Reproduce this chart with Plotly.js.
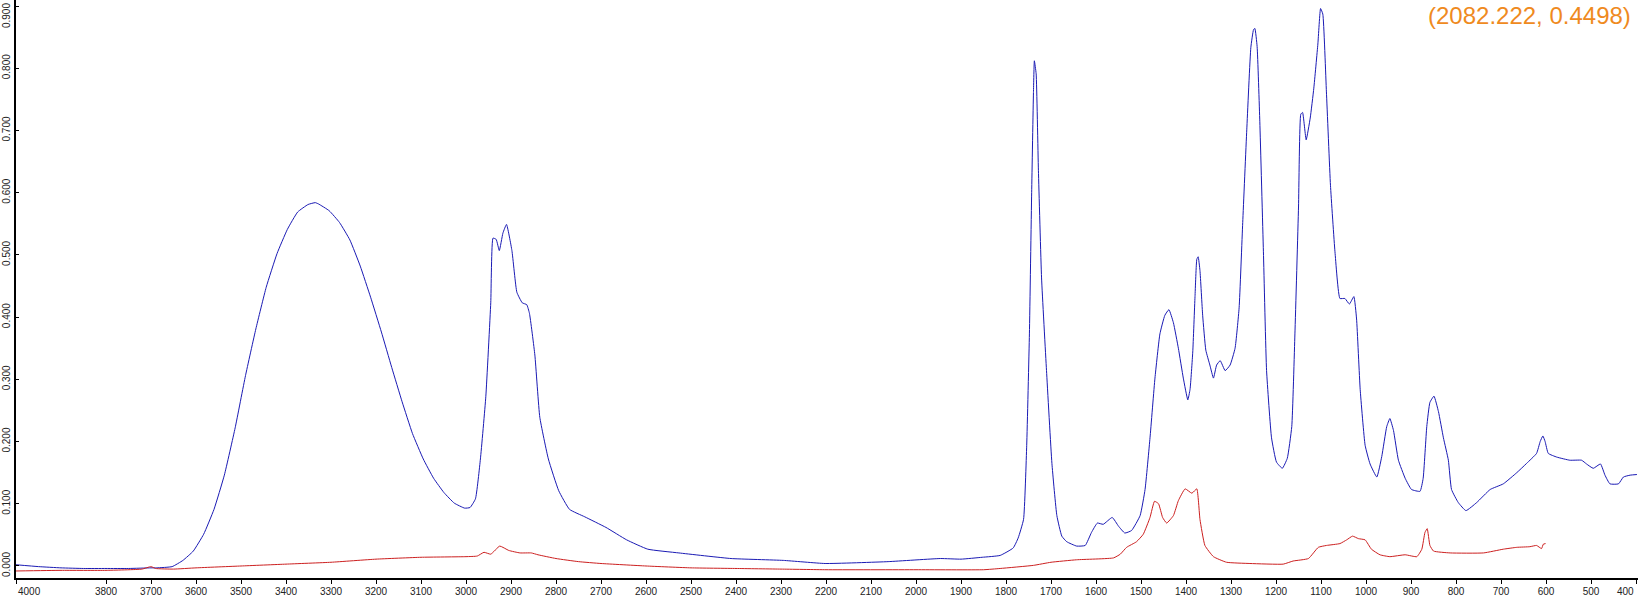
<!DOCTYPE html>
<html>
<head>
<meta charset="utf-8">
<script src="https://cdn.plot.ly/plotly-3.0.1.min.js"></script>
<style>
html,body{margin:0;padding:0;background:#fff;}
#chart{width:1638px;height:596px;}
</style>
</head>
<body>
<div id="chart"></div>
<script>
// Blue spectrum
const wnBlue = [4000,3950,3900,3850,3800,3750,3700,3687,3653,3629,3606,3583,3560,3537,3513,3490,3467,3444,3420,3397,3374,3351,3335,3328,3304,3281,3258,3235,3212,3188,3165,3142,3119,3095,3072,3049,3026,3003,2991,2979,2968,2956,2945,2940,2933,2926,2918,2910,2898,2887,2875,2865,2859,2847,2836,2817,2794,2770,2736,2689,2643,2596,2527,2411,2295,2202,2062,1946,1900,1853,1813,1784,1773,1761,1754,1748,1743,1739,1737,1733,1728,1721,1710,1698,1687,1676,1665,1643,1624,1610,1597,1584,1564,1550,1536,1521,1502,1491,1480,1469,1458,1447,1438,1428,1417,1406,1396,1391,1385,1380,1376,1373,1369,1363,1356,1347,1339,1332,1324,1313,1302,1291,1282,1274,1265,1256,1250,1247,1242,1236,1228,1221,1210,1199,1186,1175,1165,1158,1150,1145,1141,1133,1124,1116,1107,1101,1096,1088,1079,1069,1058,1047,1037,1027,1021,1013,1002,991,976,965,954,947,939,928,913,899,880,873,865,858,849,839,828,817,810,795,778,754,724,695,665,643,621,613,607,602,595,576,547,521,510,495,479,469,458,439,428,413,398];
const absBlue = [0.002,-0.001,-0.003,-0.004,-0.004,-0.004,-0.003,-0.003,-0.001,0.009,0.024,0.051,0.091,0.146,0.222,0.306,0.381,0.448,0.502,0.541,0.569,0.581,0.584,0.582,0.571,0.552,0.524,0.482,0.432,0.376,0.319,0.264,0.213,0.172,0.141,0.118,0.101,0.093,0.094,0.108,0.172,0.272,0.423,0.527,0.525,0.507,0.535,0.549,0.507,0.440,0.423,0.420,0.406,0.339,0.239,0.172,0.121,0.091,0.079,0.062,0.042,0.027,0.021,0.012,0.009,0.004,0.007,0.012,0.011,0.014,0.017,0.029,0.045,0.075,0.194,0.373,0.600,0.761,0.812,0.791,0.636,0.463,0.314,0.165,0.081,0.048,0.039,0.032,0.033,0.054,0.069,0.067,0.078,0.064,0.053,0.057,0.081,0.123,0.206,0.302,0.373,0.403,0.412,0.391,0.350,0.302,0.267,0.284,0.344,0.433,0.493,0.497,0.475,0.403,0.347,0.323,0.302,0.323,0.330,0.314,0.323,0.350,0.415,0.552,0.701,0.833,0.862,0.864,0.835,0.714,0.505,0.314,0.206,0.167,0.157,0.173,0.224,0.373,0.577,0.726,0.729,0.685,0.720,0.768,0.839,0.896,0.887,0.762,0.612,0.505,0.430,0.430,0.421,0.433,0.397,0.284,0.194,0.164,0.143,0.176,0.224,0.237,0.218,0.170,0.141,0.123,0.120,0.141,0.224,0.263,0.273,0.248,0.206,0.170,0.123,0.102,0.089,0.102,0.123,0.132,0.150,0.165,0.181,0.200,0.209,0.200,0.181,0.175,0.170,0.170,0.164,0.157,0.164,0.146,0.132,0.132,0.143,0.146,0.147];

// Red spectrum
const wnRed = [4000,3900,3800,3720,3700,3690,3650,3600,3500,3400,3300,3200,3100,3000,2975,2960,2945,2925,2905,2880,2855,2840,2800,2750,2700,2600,2500,2400,2300,2200,2000,1850,1813,1739,1700,1643,1561,1546,1532,1510,1495,1480,1470,1461,1452,1443,1428,1417,1402,1387,1376,1369,1358,1339,1310,1258,1184,1162,1128,1106,1088,1058,1043,1030,1017,1002,988,969,947,913,887,876,869,864,858,850,813,739,695,665,636,621,610,606,601];
const absRed = [-0.008,-0.007,-0.007,-0.005,-0.001,-0.004,-0.005,-0.003,0.000,0.003,0.006,0.011,0.014,0.015,0.016,0.022,0.019,0.032,0.025,0.021,0.021,0.018,0.012,0.007,0.004,0.000,-0.003,-0.004,-0.005,-0.006,-0.006,-0.006,-0.004,0.001,0.006,0.010,0.013,0.019,0.030,0.039,0.051,0.078,0.104,0.100,0.078,0.069,0.081,0.105,0.124,0.117,0.124,0.075,0.033,0.015,0.006,0.004,0.003,0.008,0.012,0.030,0.033,0.036,0.042,0.048,0.044,0.042,0.027,0.018,0.015,0.018,0.015,0.027,0.054,0.060,0.033,0.024,0.021,0.021,0.027,0.030,0.031,0.033,0.028,0.035,0.036];

// Axis ticks
const xTickVals = [4000,3800,3700,3600,3500,3400,3300,3200,3100,3000,2900,2800,2700,2600,2500,2400,2300,2200,2100,2000,1900,1800,1700,1600,1500,1400,1300,1200,1100,1000,900,800,700,600,500,400];
const yTickVals = [0,0.1,0.2,0.3,0.4,0.5,0.6,0.7,0.8,0.9];
const cursorText = "(2082.222, 0.4498)";

const xTickText = xTickVals.map(v => (v === 4000 || v === 400) ? "" : String(v));
const yTop = yTickVals[yTickVals.length - 1];
const yTickText = yTickVals.map(v => v === yTop ? "" : v.toFixed(3));

const traces = [
  {x: wnBlue, y: absBlue, type: "scatter", mode: "lines", line: {color: "#1a1ab4", width: 1, shape: "spline", smoothing: 0.4}, hoverinfo: "skip"},
  {x: wnRed, y: absRed, type: "scatter", mode: "lines", line: {color: "#cc1f1f", width: 1, shape: "spline", smoothing: 0.4}, hoverinfo: "skip"}
];

const tickFont = {family: "Arial, 'Liberation Sans', sans-serif", size: 10, color: "#222"};
const yFont = {family: "'Liberation Sans Narrow', 'Arial Narrow', Arial, sans-serif", size: 10, color: "#222"};

const layout = {
  width: 1638, height: 596,
  margin: {l: 16, r: 0, t: 0, b: 18, pad: 0},
  paper_bgcolor: "#ffffff", plot_bgcolor: "#ffffff",
  showlegend: false,
  font: tickFont,
  xaxis: {
    range: [4000, 395.6], autorange: false,
    tickmode: "array", tickvals: xTickVals, ticktext: xTickText,
    ticks: "outside", ticklen: 4, tickwidth: 1, tickcolor: "#000",
    showline: true, linecolor: "#000", linewidth: 2,
    showgrid: false, zeroline: false,
    tickfont: tickFont,
    ticklabelstandoff: -1
  },
  yaxis: {
    range: [-0.0193, 0.9097], autorange: false,
    tickmode: "array", tickvals: yTickVals, ticktext: yTickText,
    ticks: "inside", ticklen: 3, tickwidth: 1, tickcolor: "#000",
    showline: true, linecolor: "#000", linewidth: 2,
    showgrid: false, zeroline: false,
    tickangle: -90,
    ticklabeloverflow: "allow",
    tickfont: yFont,
    ticklabelstandoff: 0
  },
  annotations: [
    {text: cursorText, xref: "paper", yref: "paper", x: 1, y: 1, xanchor: "right", yanchor: "top",
     xshift: -5, yshift: 0, showarrow: false,
     font: {family: "Arial, 'Liberation Sans', sans-serif", size: 24, color: "#ef8a1e"}},
    {text: String(xTickVals[0]), xref: "x", yref: "paper", x: xTickVals[0], y: 0, xanchor: "left", yanchor: "top",
     yshift: -6, showarrow: false, font: tickFont},
    {text: String(xTickVals[xTickVals.length-1]), xref: "x", yref: "paper", x: xTickVals[xTickVals.length-1], y: 0, xanchor: "right", yanchor: "top",
     yshift: -6, showarrow: false, font: tickFont},
    {text: yTop.toFixed(3), xref: "paper", yref: "y", x: 0, y: yTop, xanchor: "right", yanchor: "top",
     xshift: -2, yshift: 5, textangle: -90, showarrow: false, font: yFont}
  ]
};

Plotly.newPlot("chart", traces, layout, {staticPlot: true, displayModeBar: false});
</script>
</body>
</html>
